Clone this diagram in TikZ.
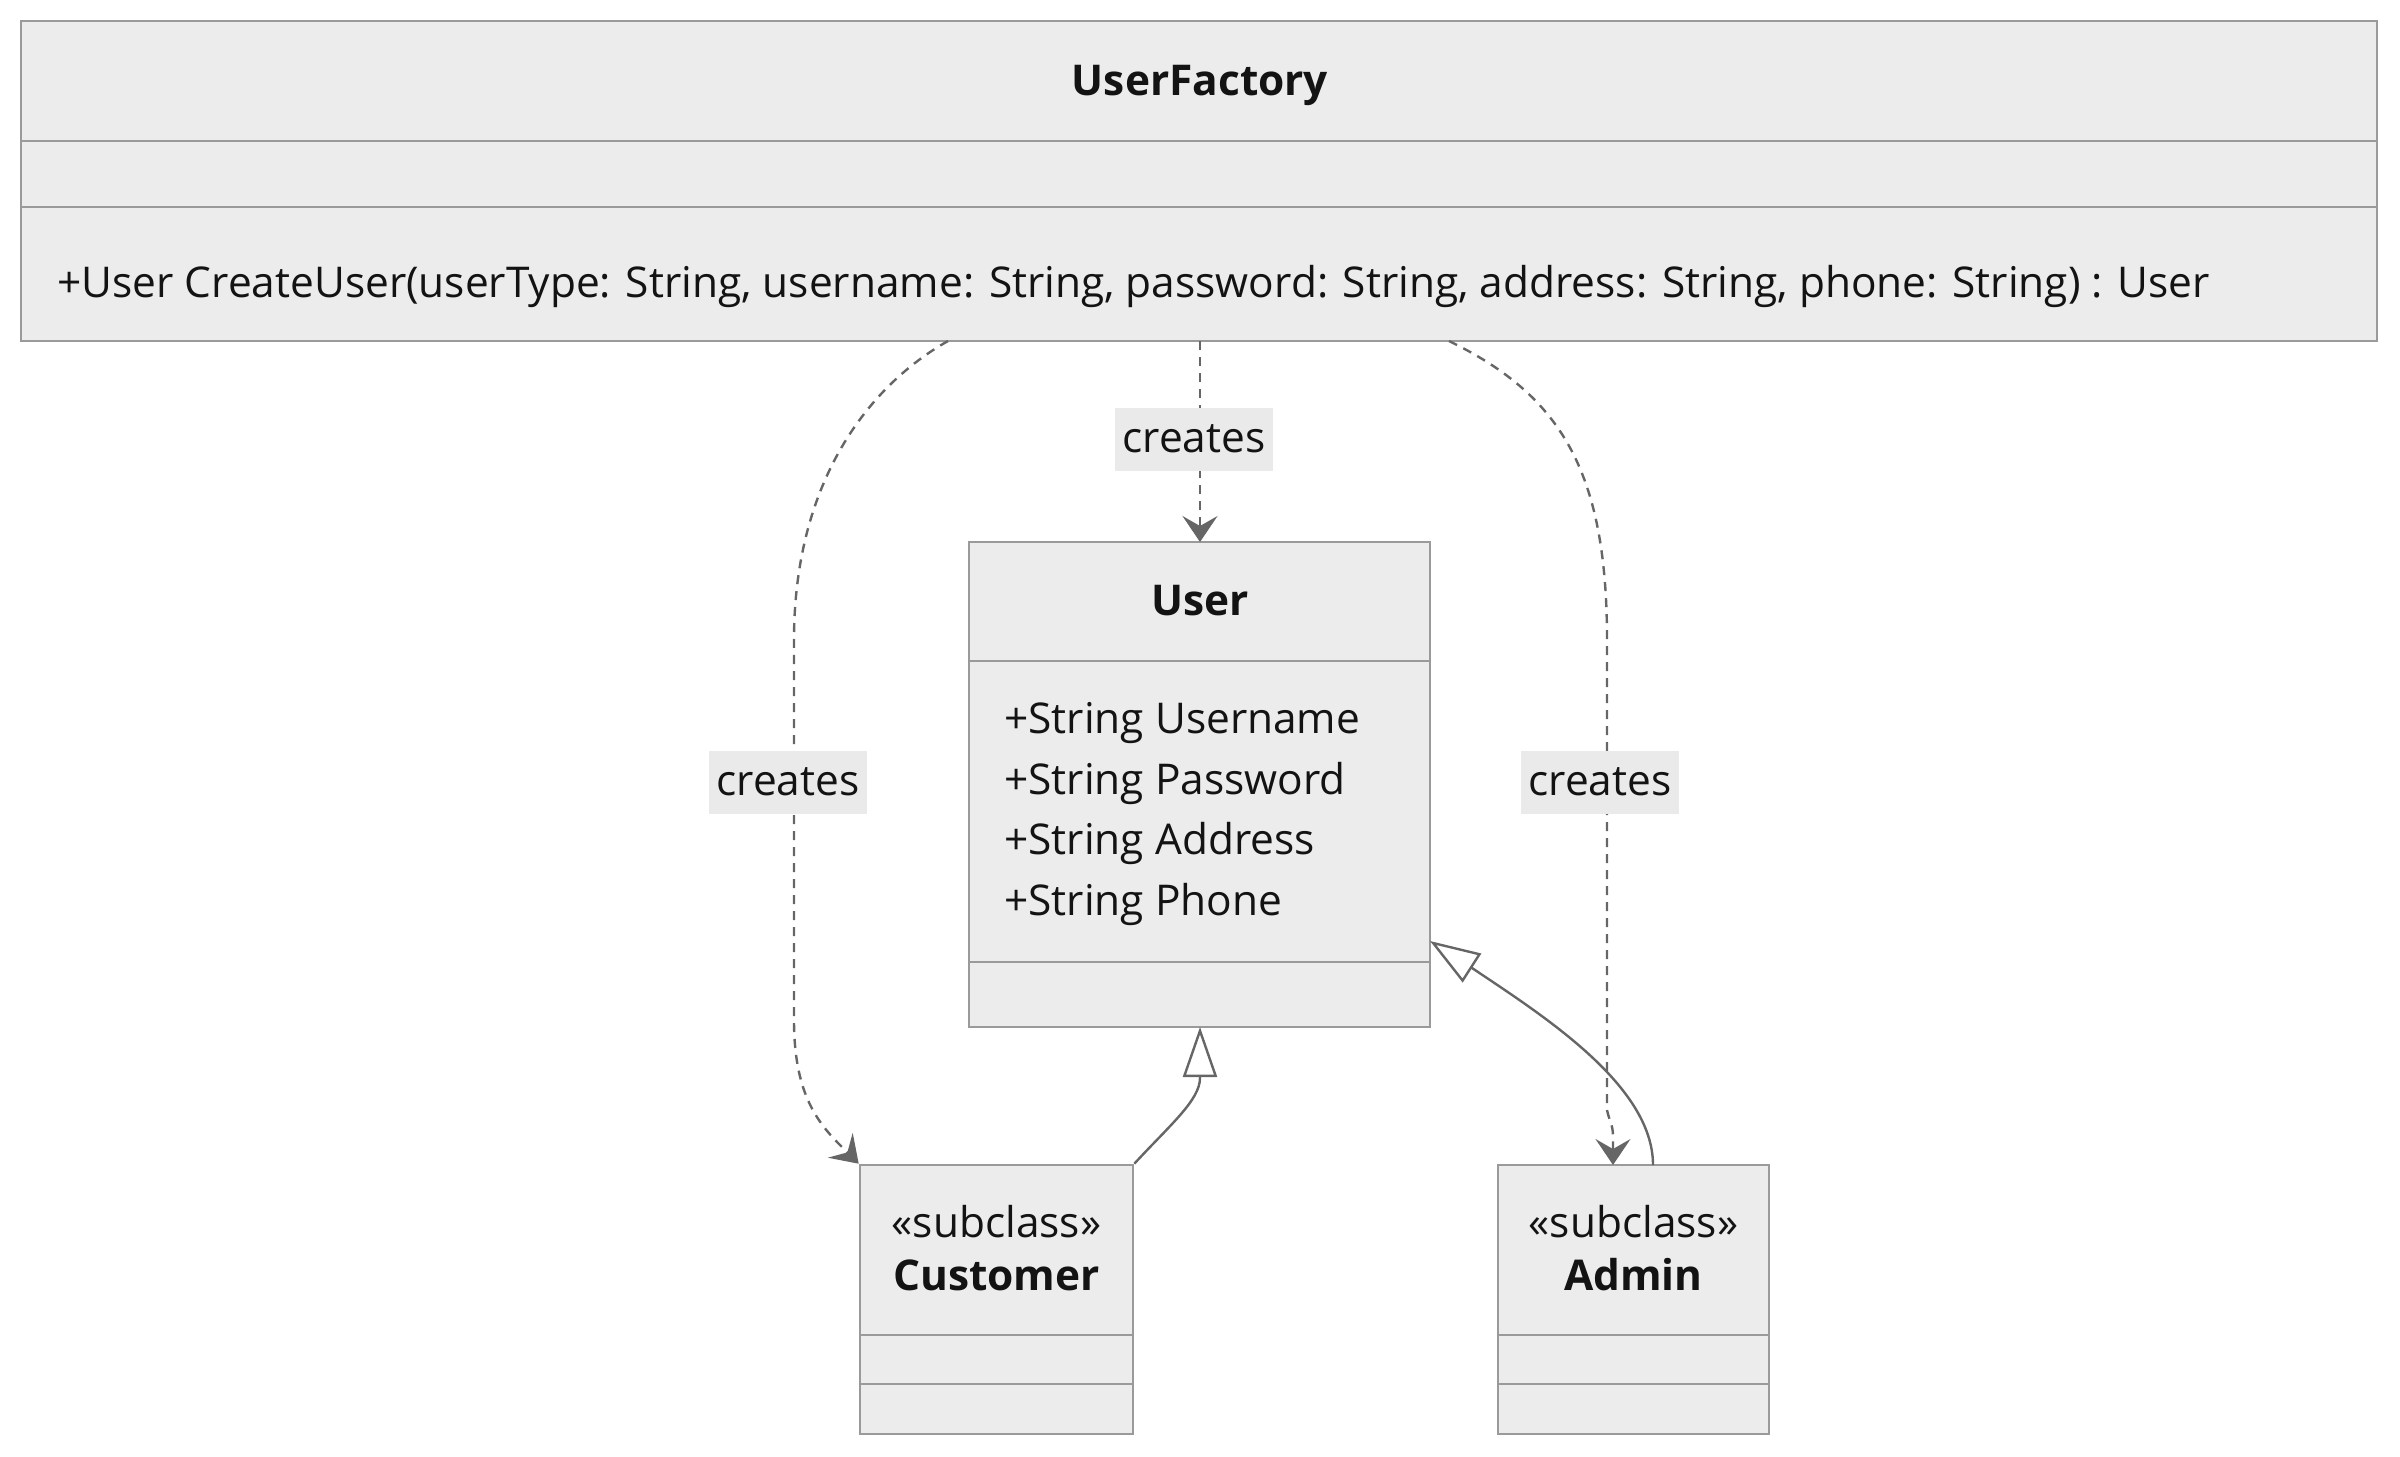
\documentclass[tikz,border=0pt]{standalone}
\usepackage{fontspec}
\setmainfont{Open Sans}
\usetikzlibrary{arrows.meta,fit}
\definecolor{boxfill}{HTML}{ECECEC}
\definecolor{boxline}{HTML}{9A9A9A}
\definecolor{edgec}{HTML}{666666}
\definecolor{lblbg}{HTML}{EAEAEA}
\definecolor{textc}{HTML}{131313}
\begin{document}
\begin{tikzpicture}[x=0.5pt,y=-0.5pt,
  classbox/.style={draw=boxline, fill=boxfill, line width=1.3pt, inner sep=0pt},
  divider/.style={draw=boxline, line width=1.3pt},
  txt/.style={inner sep=0pt, text=textc, font=\fontsize{21.2}{25}\selectfont},
  ttl/.style={inner sep=0pt, text=textc, font=\fontsize{21.2}{25}\selectfont\bfseries},
  lbl/.style={fill=lblbg, text=textc, inner sep=0pt, minimum width=79pt, minimum height=31.5pt, font=\fontsize{21.2}{25}\selectfont},
  dep/.style={draw=edgec, line width=1.2pt, dash pattern=on 4.5pt off 3.5pt, -{Stealth[length=13pt,width=17.5pt,inset=5pt]}},
  gen/.style={draw=edgec, line width=1.2pt, -{Triangle[length=25pt,width=17pt,fill=white]}},
]
\useasboundingbox (0,0) rectangle (2400,1457);

% UserFactory
\node[classbox, fit={(21,21)(2377,341)}] (uf) {};
\draw[divider] (21,141) -- (2377,141);
\draw[divider] (21,207) -- (2377,207);
\node[ttl, anchor=base] (ufT) at (1200,95) {UserFactory};
\node[txt, anchor=base west] (ufM) at (57,297) {+User CreateUser(userType: String, username: String, password: String, address: String, phone: String) : User};

% User
\node[classbox, fit={(969,542)(1430,1027)}] (user) {};
\draw[divider] (969,661) -- (1430,661);
\draw[divider] (969,962) -- (1430,962);
\node[ttl, anchor=base] (userT) at (1200,615) {User};
\node[txt, anchor=base west] (ua1) at (1004,733) {+String Username};
\node[txt, anchor=base west] (ua2) at (1004,794) {+String Password};
\node[txt, anchor=base west] (ua3) at (1004,854) {+String Address};
\node[txt, anchor=base west] (ua4) at (1004,915) {+String Phone};

% Customer
\node[classbox, fit={(860,1165)(1133,1434)}] (cust) {};
\draw[divider] (860,1335) -- (1133,1335);
\draw[divider] (860,1384) -- (1133,1384);
\node[txt, anchor=base] (custS) at (996.5,1237) {«subclass»};
\node[ttl, anchor=base] (custT) at (996.5,1290) {Customer};

% Admin
\node[classbox, fit={(1498,1165)(1769,1434)}] (adm) {};
\draw[divider] (1498,1335) -- (1769,1335);
\draw[divider] (1498,1384) -- (1769,1384);
\node[txt, anchor=base] (admS) at (1633.5,1237) {«subclass»};
\node[ttl, anchor=base] (admT) at (1633.5,1290) {Admin};

% anchor coordinates on the boxes
\coordinate (ufA) at (948,341);
\coordinate (ufB) at (1449,341);
\coordinate (ufC) at (1200,341);
\coordinate (userTop) at (1200,542);
\coordinate (userBot) at (1200,1027);
\coordinate (userR) at (1430,941);
\coordinate (admA) at (1613,1165);
\coordinate (admB) at (1653,1165);

% creates (dependencies)
\draw[dep] (ufA) .. controls (870,385) and (794,480) .. (794,640) -- (794,1020)
  .. controls (794,1090) and (815,1120) .. (840,1145) -- (cust.north west);
\draw[dep] (ufC) -- (userTop);
\draw[dep] (ufB) .. controls (1560,395) and (1607,470) .. (1607,640) -- (1607,1110)
  .. controls (1609,1120) and (1613,1125) .. (1613,1136) -- (admA);

% inheritance
\draw[gen] (cust.north east) .. controls (1170,1125) and (1200,1100) .. (1200,1078) -- (userBot);
\draw[gen] (admB) .. controls (1653,1085) and (1542,1015) .. (1472,968) -- (userR);

% labels
\node[lbl] (l1) at (788,782) {creates};
\node[lbl] (l2) at (1194,439) {creates};
\node[lbl] (l3) at (1600,782) {creates};
\end{tikzpicture}
\end{document}
